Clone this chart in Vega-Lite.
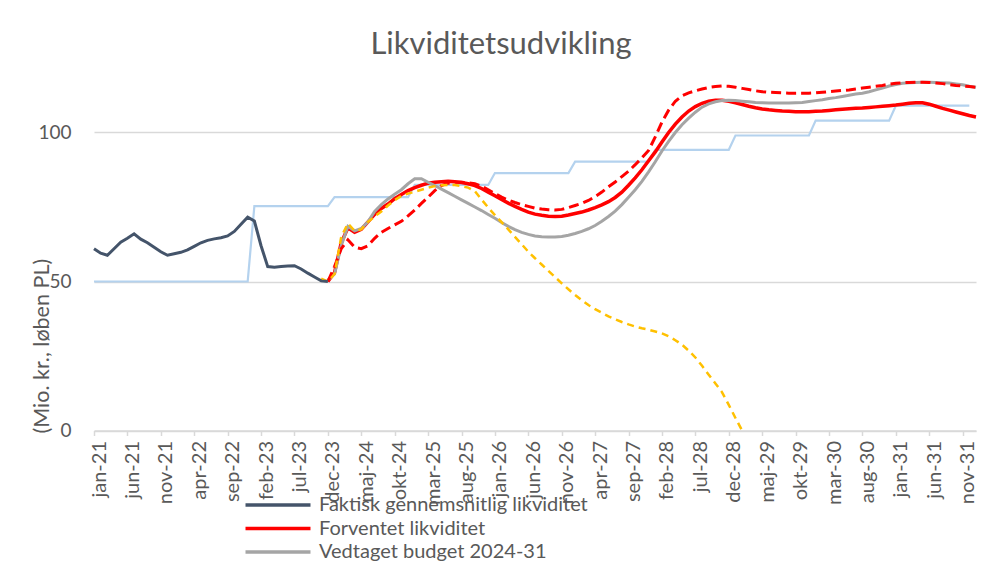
{
  "$schema": "https://vega.github.io/schema/vega-lite/v6.json",
  "width": 882,
  "height": 372.5,
  "autosize": {"type": "none"},
  "padding": {"left": 94, "top": 58, "right": 5, "bottom": 143.5},
  "background": "white",
  "config": {"view": {"stroke": null}, "font": "Lato"},
  "title": {"text": "Likviditetsudvikling", "fontSize": 31, "font": "Lato", "fontWeight": "normal", "color": "#595959", "anchor": "middle", "dx": -34, "dy": 28, "baseline": "alphabetic", "offset": 1},
  "datasets": {
    "navy": [{"t":0,"v":61},{"t":1,"v":59.5},{"t":2,"v":58.8},{"t":3,"v":61},{"t":4,"v":63.2},{"t":5,"v":64.5},{"t":6,"v":66},{"t":7,"v":64.2},{"t":8,"v":63},{"t":9,"v":61.5},{"t":10,"v":60},{"t":11,"v":58.8},{"t":12,"v":59.3},{"t":13,"v":59.8},{"t":14,"v":60.6},{"t":15,"v":61.8},{"t":16,"v":63},{"t":17,"v":63.8},{"t":18,"v":64.3},{"t":19,"v":64.7},{"t":20,"v":65.3},{"t":21,"v":66.8},{"t":22,"v":69.2},{"t":23,"v":71.6},{"t":24,"v":70.3},{"t":25,"v":62},{"t":26,"v":55},{"t":27,"v":54.8},{"t":28,"v":55},{"t":29,"v":55.2},{"t":30,"v":55.3},{"t":31,"v":54.2},{"t":32,"v":52.8},{"t":33,"v":51.5},{"t":34,"v":50.2},{"t":35,"v":50}],
    "blue": [{"t":0,"v":50},{"t":23,"v":50},{"t":24,"v":75.3},{"t":35,"v":75.3},{"t":36,"v":78.3},{"t":47,"v":78.3},{"t":48,"v":82.4},{"t":59,"v":82.4},{"t":60,"v":86.4},{"t":71,"v":86.4},{"t":72,"v":90.2},{"t":83,"v":90.2},{"t":84,"v":94.2},{"t":95,"v":94.2},{"t":96,"v":99},{"t":107,"v":99},{"t":108,"v":104},{"t":119,"v":104},{"t":120,"v":109},{"t":131,"v":109}],
    "red": [{"t":35,"v":50},{"t":36,"v":53},{"t":37,"v":63},{"t":38,"v":68},{"t":39,"v":66.5},{"t":40,"v":67.5},{"t":41,"v":70},{"t":42,"v":72.5},{"t":43,"v":74.5},{"t":44,"v":76},{"t":45,"v":77.8},{"t":46,"v":79.2},{"t":47,"v":80.5},{"t":48,"v":81.5},{"t":49,"v":82.3},{"t":50,"v":83},{"t":51,"v":83.3},{"t":52,"v":83.5},{"t":53,"v":83.6},{"t":54,"v":83.5},{"t":55,"v":83.2},{"t":56,"v":82.8},{"t":57,"v":82.2},{"t":58,"v":81.2},{"t":59,"v":80},{"t":60,"v":78.8},{"t":61,"v":77.5},{"t":62,"v":76.3},{"t":63,"v":75.2},{"t":64,"v":74.2},{"t":65,"v":73.3},{"t":66,"v":72.6},{"t":67,"v":72.2},{"t":68,"v":71.9},{"t":69,"v":71.8},{"t":70,"v":71.9},{"t":71,"v":72.3},{"t":72,"v":72.8},{"t":73,"v":73.3},{"t":74,"v":74},{"t":75,"v":74.8},{"t":76,"v":75.7},{"t":77,"v":76.8},{"t":78,"v":78.2},{"t":79,"v":80},{"t":80,"v":82.3},{"t":81,"v":84.8},{"t":82,"v":87.5},{"t":83,"v":90.5},{"t":84,"v":93.5},{"t":85,"v":96.8},{"t":86,"v":100},{"t":87,"v":102.8},{"t":88,"v":105.2},{"t":89,"v":107.2},{"t":90,"v":108.7},{"t":91,"v":109.8},{"t":92,"v":110.5},{"t":93,"v":110.8},{"t":94,"v":110.8},{"t":95,"v":110.5},{"t":96,"v":110},{"t":97,"v":109.4},{"t":98,"v":108.8},{"t":99,"v":108.3},{"t":100,"v":107.9},{"t":101,"v":107.6},{"t":102,"v":107.4},{"t":103,"v":107.2},{"t":104,"v":107.1},{"t":105,"v":107},{"t":106,"v":107},{"t":107,"v":107},{"t":108,"v":107.1},{"t":109,"v":107.2},{"t":110,"v":107.4},{"t":111,"v":107.6},{"t":112,"v":107.8},{"t":113,"v":108},{"t":114,"v":108.1},{"t":115,"v":108.2},{"t":116,"v":108.4},{"t":117,"v":108.6},{"t":118,"v":108.8},{"t":119,"v":109},{"t":120,"v":109.2},{"t":121,"v":109.5},{"t":122,"v":109.8},{"t":123,"v":110},{"t":124,"v":110},{"t":125,"v":109.5},{"t":126,"v":108.8},{"t":127,"v":108.1},{"t":128,"v":107.5},{"t":129,"v":106.9},{"t":130,"v":106.3},{"t":131,"v":105.7},{"t":132,"v":105.2}],
    "reddash": [{"t":35,"v":50},{"t":36,"v":55},{"t":37,"v":61},{"t":38,"v":64},{"t":39,"v":61.5},{"t":40,"v":61},{"t":41,"v":62},{"t":42,"v":64.5},{"t":43,"v":66.5},{"t":44,"v":67.8},{"t":45,"v":69},{"t":46,"v":70.2},{"t":47,"v":72},{"t":48,"v":74},{"t":49,"v":76.2},{"t":50,"v":78.3},{"t":51,"v":80.5},{"t":52,"v":82.2},{"t":53,"v":83},{"t":54,"v":83.3},{"t":55,"v":83.3},{"t":56,"v":83.1},{"t":57,"v":82.8},{"t":58,"v":82},{"t":59,"v":80.8},{"t":60,"v":79.5},{"t":61,"v":78.3},{"t":62,"v":77.3},{"t":63,"v":76.5},{"t":64,"v":75.8},{"t":65,"v":75.2},{"t":66,"v":74.6},{"t":67,"v":74.3},{"t":68,"v":74.1},{"t":69,"v":74},{"t":70,"v":74.2},{"t":71,"v":74.8},{"t":72,"v":75.5},{"t":73,"v":76.2},{"t":74,"v":77.2},{"t":75,"v":78.5},{"t":76,"v":80},{"t":77,"v":81.8},{"t":78,"v":83.4},{"t":79,"v":85.2},{"t":80,"v":87},{"t":81,"v":89.2},{"t":82,"v":91.5},{"t":83,"v":94},{"t":84,"v":98.5},{"t":85,"v":103.5},{"t":86,"v":107.5},{"t":87,"v":110.5},{"t":88,"v":112.3},{"t":89,"v":113.3},{"t":90,"v":114},{"t":91,"v":114.6},{"t":92,"v":115.1},{"t":93,"v":115.4},{"t":94,"v":115.6},{"t":95,"v":115.5},{"t":96,"v":115.2},{"t":97,"v":114.8},{"t":98,"v":114.4},{"t":99,"v":114},{"t":100,"v":113.7},{"t":101,"v":113.5},{"t":102,"v":113.4},{"t":103,"v":113.3},{"t":104,"v":113.2},{"t":105,"v":113.2},{"t":106,"v":113.2},{"t":107,"v":113.2},{"t":108,"v":113.3},{"t":109,"v":113.5},{"t":110,"v":113.7},{"t":111,"v":113.9},{"t":112,"v":114.1},{"t":113,"v":114.3},{"t":114,"v":114.6},{"t":115,"v":114.9},{"t":116,"v":115.2},{"t":117,"v":115.5},{"t":118,"v":115.8},{"t":119,"v":116.2},{"t":120,"v":116.5},{"t":121,"v":116.7},{"t":122,"v":116.8},{"t":123,"v":116.9},{"t":124,"v":116.9},{"t":125,"v":116.8},{"t":126,"v":116.6},{"t":127,"v":116.4},{"t":128,"v":116.1},{"t":129,"v":115.8},{"t":130,"v":115.6},{"t":131,"v":115.4},{"t":132,"v":115.2}],
    "gray": [{"t":35,"v":50.5},{"t":36,"v":52.5},{"t":37,"v":62},{"t":38,"v":68.5},{"t":39,"v":67},{"t":40,"v":67.8},{"t":41,"v":70},{"t":42,"v":73.5},{"t":43,"v":75.8},{"t":44,"v":77.7},{"t":45,"v":79.3},{"t":46,"v":80.8},{"t":47,"v":82.8},{"t":48,"v":84.5},{"t":49,"v":84.5},{"t":50,"v":83.3},{"t":51,"v":82.2},{"t":52,"v":81},{"t":53,"v":79.8},{"t":54,"v":78.6},{"t":55,"v":77.4},{"t":56,"v":76.2},{"t":57,"v":75},{"t":58,"v":73.8},{"t":59,"v":72.5},{"t":60,"v":71.2},{"t":61,"v":69.8},{"t":62,"v":68.5},{"t":63,"v":67.4},{"t":64,"v":66.5},{"t":65,"v":65.8},{"t":66,"v":65.3},{"t":67,"v":65},{"t":68,"v":64.9},{"t":69,"v":64.9},{"t":70,"v":65.1},{"t":71,"v":65.5},{"t":72,"v":66.1},{"t":73,"v":66.8},{"t":74,"v":67.7},{"t":75,"v":68.8},{"t":76,"v":70.2},{"t":77,"v":71.8},{"t":78,"v":73.6},{"t":79,"v":75.8},{"t":80,"v":78.3},{"t":81,"v":80.8},{"t":82,"v":83.6},{"t":83,"v":86.8},{"t":84,"v":90.2},{"t":85,"v":93.8},{"t":86,"v":97},{"t":87,"v":100},{"t":88,"v":102.6},{"t":89,"v":104.8},{"t":90,"v":106.8},{"t":91,"v":108.5},{"t":92,"v":109.6},{"t":93,"v":110.3},{"t":94,"v":110.7},{"t":95,"v":110.8},{"t":96,"v":110.7},{"t":97,"v":110.5},{"t":98,"v":110.3},{"t":99,"v":110.1},{"t":100,"v":110},{"t":101,"v":109.9},{"t":102,"v":109.9},{"t":103,"v":109.9},{"t":104,"v":109.9},{"t":105,"v":110},{"t":106,"v":110.1},{"t":107,"v":110.4},{"t":108,"v":110.7},{"t":109,"v":111},{"t":110,"v":111.4},{"t":111,"v":111.7},{"t":112,"v":112.1},{"t":113,"v":112.5},{"t":114,"v":112.9},{"t":115,"v":113.2},{"t":116,"v":113.7},{"t":117,"v":114.3},{"t":118,"v":114.9},{"t":119,"v":115.6},{"t":120,"v":116.1},{"t":121,"v":116.5},{"t":122,"v":116.7},{"t":123,"v":116.8},{"t":124,"v":116.9},{"t":125,"v":116.9},{"t":126,"v":116.8},{"t":127,"v":116.7},{"t":128,"v":116.6},{"t":129,"v":116.3},{"t":130,"v":116},{"t":131,"v":115.5},{"t":132,"v":115.2}],
    "yellow": [{"t":34,"v":51},{"t":35,"v":50},{"t":36,"v":52.5},{"t":37,"v":65},{"t":38,"v":69.5},{"t":39,"v":67},{"t":40,"v":67.5},{"t":41,"v":70},{"t":42,"v":71.8},{"t":43,"v":73.5},{"t":44,"v":75.5},{"t":45,"v":77.3},{"t":46,"v":78.7},{"t":47,"v":79.5},{"t":48,"v":80.1},{"t":49,"v":80.8},{"t":50,"v":81.5},{"t":51,"v":82},{"t":52,"v":82.3},{"t":53,"v":82.4},{"t":54,"v":82.4},{"t":55,"v":82},{"t":56,"v":81.5},{"t":57,"v":80.3},{"t":58,"v":77.5},{"t":59,"v":74.8},{"t":60,"v":72.3},{"t":61,"v":69.9},{"t":62,"v":67.5},{"t":63,"v":65},{"t":64,"v":62.5},{"t":65,"v":60},{"t":66,"v":57.8},{"t":67,"v":55.7},{"t":68,"v":53.6},{"t":69,"v":51.5},{"t":70,"v":49.4},{"t":71,"v":47.4},{"t":72,"v":45.5},{"t":73,"v":43.7},{"t":74,"v":42.1},{"t":75,"v":40.7},{"t":76,"v":39.5},{"t":77,"v":38.3},{"t":78,"v":37.3},{"t":79,"v":36.4},{"t":80,"v":35.6},{"t":81,"v":34.9},{"t":82,"v":34.3},{"t":83,"v":33.8},{"t":84,"v":33.2},{"t":85,"v":32.6},{"t":86,"v":31.6},{"t":87,"v":30.3},{"t":88,"v":28.8},{"t":89,"v":26.8},{"t":90,"v":24.5},{"t":91,"v":21.7},{"t":92,"v":18.7},{"t":93,"v":15.8},{"t":94,"v":12.8},{"t":95,"v":8.6},{"t":96,"v":4.2},{"t":97,"v":0}]
  },
  "encoding": {
    "x": {"field": "t", "type": "quantitative",
      "scale": {"domain": [0, 132], "nice": false, "zero": false},
      "axis": {"values": [0,5,10,15,20,25,30,35,40,45,50,55,60,65,70,75,80,85,90,95,100,105,110,115,120,125,130],
        "labelExpr": "['jan','feb','mar','apr','maj','jun','jul','aug','sep','okt','nov','dec'][datum.value % 12] + '-' + (21 + floor(datum.value / 12))",
        "labelAngle": -90, "grid": false, "domainColor": "#D9D9D9", "domainWidth": 1.5,
        "tickColor": "#D9D9D9", "tickSize": 5, "tickWidth": 1.5,
        "labelFontSize": 20, "labelFont": "Lato", "labelColor": "#595959", "labelPadding": 5, "labelOffset": 5,
        "labelOverlap": false, "labelFlush": false, "labelBound": false, "title": null}},
    "y": {"field": "v", "type": "quantitative",
      "scale": {"domain": [0, 125], "nice": false},
      "axis": {"values": [0, 50, 100], "grid": true, "gridColor": "#D9D9D9", "gridWidth": 1.5,
        "domain": false, "ticks": false, "labelFontSize": 19, "labelFont": "Lato", "labelColor": "#595959", "labelPadding": 23,
        "title": "(Mio. kr., løben PL)", "titleFontSize": 21.5, "titleFont": "Lato", "titleColor": "#595959", "titleFontWeight": "normal",
        "titleX": -52, "titleY": 375, "titleAlign": "left", "titleAngle": 270, "titleBaseline": "middle"}}
  },
  "layer": [
    {"data": {"name": "blue"}, "mark": {"type": "line", "strokeWidth": 2.2, "clip": false},
     "encoding": {"color": {"datum": "Ramme",
        "scale": {"domain": ["Faktisk gennemsnitlig likviditet", "Forventet likviditet", "Vedtaget budget 2024-31", "Ramme", "Forventet likviditet (alt.)", "Scenarie"],
                  "range": ["#44546A", "#FF0000", "#A5A5A5", "#B4D2EE", "#FF0000", "#FFC000"]},
        "legend": {"orient": "none", "legendX": 174, "legendY": 437, "title": null,
          "values": ["Faktisk gennemsnitlig likviditet", "Forventet likviditet", "Vedtaget budget 2024-31"],
          "symbolType": "M-4,0H4", "symbolSize": 264, "symbolStrokeWidth": 3.5,
          "labelFontSize": 20, "labelFont": "Lato", "labelColor": "#595959", "labelOffset": 31, "rowPadding": 3.5, "labelLimit": 0}}}},
    {"data": {"name": "red"}, "mark": {"type": "line", "strokeWidth": 3.5, "clip": false},
     "encoding": {"color": {"datum": "Forventet likviditet"}}},
    {"data": {"name": "gray"}, "mark": {"type": "line", "strokeWidth": 3, "clip": false},
     "encoding": {"color": {"datum": "Vedtaget budget 2024-31"}}},
    {"data": {"name": "reddash"}, "mark": {"type": "line", "strokeWidth": 3, "strokeDash": [10, 5], "clip": false},
     "encoding": {"color": {"datum": "Forventet likviditet (alt.)"}}},
    {"data": {"name": "yellow"}, "mark": {"type": "line", "strokeWidth": 2.5, "strokeDash": [7, 5], "clip": false},
     "encoding": {"color": {"datum": "Scenarie"}}},
    {"data": {"name": "navy"}, "mark": {"type": "line", "strokeWidth": 3, "clip": false},
     "encoding": {"color": {"datum": "Faktisk gennemsnitlig likviditet"}}}
  ]
}
